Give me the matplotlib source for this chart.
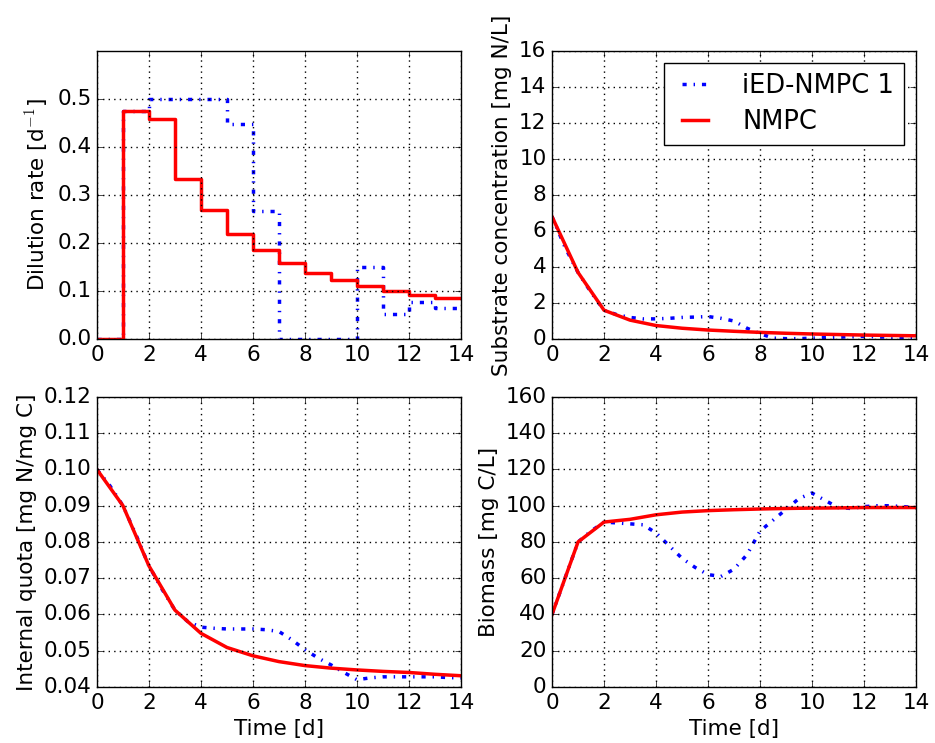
import numpy as np
import matplotlib
matplotlib.use('Agg')
import matplotlib.pyplot as plt

plt.style.use('classic')
plt.rcParams['font.family'] = 'DejaVu Sans'
plt.rcParams['font.size'] = 15.5

# Tiempo (días)
t_dia = np.arange(0, 15)
t_medio = np.arange(0, 14.5, 0.5)

# Tasa de dilución (escalonada)
dil_nmpc = [0.0, 0.475, 0.458, 0.333, 0.268, 0.218, 0.185, 0.158, 0.138,
            0.122, 0.110, 0.100, 0.092, 0.085, 0.085]
dil_ied = [0.0, 0.475, 0.5, 0.5, 0.5, 0.448, 0.266, 0.0, 0.0,
           0.0, 0.15, 0.052, 0.077, 0.064, 0.064]

# Concentración de sustrato
sus_nmpc = [6.8, 3.7, 1.6, 1.05, 0.75, 0.6, 0.5, 0.43, 0.37, 0.32, 0.28,
            0.25, 0.22, 0.2, 0.18]
sus_ied = [6.8, 5.1, 3.7, 2.6, 1.6, 1.35, 1.2, 1.12, 1.12, 1.15, 1.2, 1.22,
           1.25, 1.15, 1.0, 0.6, 0.3, 0.05, 0.02, 0.02, 0.05, 0.08, 0.1,
           0.13, 0.15, 0.12, 0.1, 0.07, 0.05]

# Cuota interna
cuota_nmpc = [0.100, 0.090, 0.0734, 0.0612, 0.0548, 0.0509, 0.0486, 0.047,
              0.0459, 0.0452, 0.0447, 0.0443, 0.0440, 0.0435, 0.0431]
cuota_ied = [0.100, 0.0955, 0.090, 0.082, 0.0734, 0.067, 0.0612, 0.058,
             0.0565, 0.0562, 0.056, 0.056, 0.056, 0.0558, 0.0553, 0.053,
             0.0503, 0.048, 0.0461, 0.044, 0.042, 0.0425, 0.0428, 0.0428,
             0.0428, 0.0428, 0.0428, 0.0426, 0.0425]

# Biomasa
bio_nmpc = [40, 80, 91, 92.5, 95, 96.5, 97.3, 97.8, 98.2, 98.5, 98.7,
            98.8, 99, 99, 99]
bio_ied = [40, 60, 80, 86, 91, 90.5, 90, 89.5, 85, 78, 71, 66, 62, 61, 65,
           73, 86, 92, 98, 104, 107, 103, 99, 98.5, 99.5, 100, 100, 99.5, 99]

fig = plt.figure(figsize=(9.35, 7.43), dpi=100, facecolor='white')
ax1 = fig.add_axes([0.1037, 0.5437, 0.3893, 0.3876])
ax2 = fig.add_axes([0.5904, 0.5437, 0.3893, 0.3876])
ax3 = fig.add_axes([0.1037, 0.0754, 0.3893, 0.3903])
ax4 = fig.add_axes([0.5904, 0.0754, 0.3893, 0.3903])

estilo_ied = dict(color='blue', linestyle='-.', linewidth=2.5)
estilo_nmpc = dict(color='red', linestyle='-', linewidth=2.5)

ax1.step(t_dia, dil_ied, where='post', **estilo_ied)
ax1.step(t_dia, dil_nmpc, where='post', **estilo_nmpc)
ax1.set_ylim(0, 0.6)
ax1.set_yticks([0.0, 0.1, 0.2, 0.3, 0.4, 0.5])
ax1.set_ylabel('Dilution rate [d$^{-1}$]')

ax2.plot(t_medio, sus_ied, label='iED-NMPC 1', **estilo_ied)
ax2.plot(t_dia, sus_nmpc, label='NMPC', **estilo_nmpc)
ax2.set_ylim(0, 16)
ax2.set_yticks(range(0, 17, 2))
ax2.set_ylabel('Substrate concentration [mg N/L]')
ax2.legend(loc='upper right', fancybox=False, fontsize=18.5, handlelength=1.6,
           handletextpad=1.05, labelspacing=0.4, borderpad=0.4,
           borderaxespad=0.45)

ax3.plot(t_medio, cuota_ied, **estilo_ied)
ax3.plot(t_dia, cuota_nmpc, **estilo_nmpc)
ax3.set_ylim(0.04, 0.12)
ax3.set_yticks(np.arange(0.04, 0.121, 0.01))
ax3.set_ylabel('Internal quota [mg N/mg C]')
ax3.set_xlabel('Time [d]')

ax4.plot(t_medio, bio_ied, **estilo_ied)
ax4.plot(t_dia, bio_nmpc, **estilo_nmpc)
ax4.set_ylim(0, 160)
ax4.set_yticks(range(0, 161, 20))
ax4.set_ylabel('Biomass [mg C/L]')
ax4.set_xlabel('Time [d]')

for ax in (ax1, ax2, ax3, ax4):
    ax.set_xlim(0, 14)
    ax.set_xticks(range(0, 15, 2))
    ax.grid(True, color='black', linestyle=':', linewidth=1)
    ax.tick_params(labelsize=15.5)

fig.savefig('out.png', dpi=100, facecolor='white')
